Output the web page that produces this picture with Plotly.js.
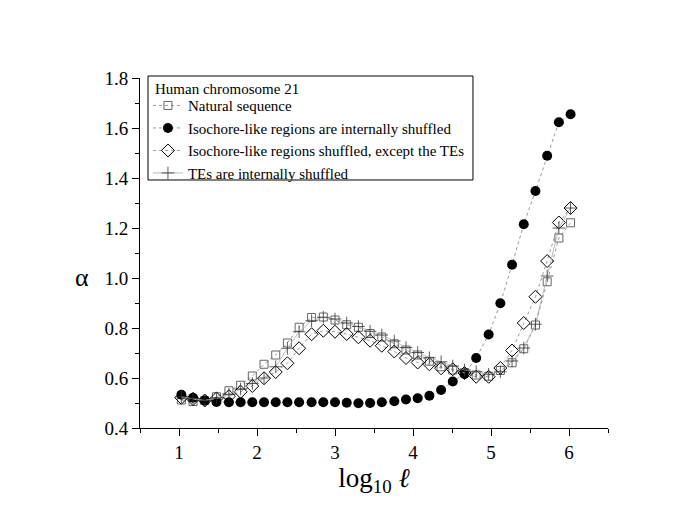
<!DOCTYPE html>
<html>
<head>
<meta charset="utf-8">
<script src="https://cdn.plot.ly/plotly-3.0.1.min.js"></script>
<style>html,body{margin:0;padding:0;background:#fff;}#chart{width:685px;height:532px;}</style>
</head>
<body>
<div id="chart"></div>
<script>
const logL = [1.03,1.18,1.33,1.48,1.64,1.79,1.94,2.09,2.24,2.39,2.54,2.70,2.85,3.00,3.15,3.30,3.45,3.60,3.76,3.91,4.06,4.21,4.36,4.51,4.66,4.81,4.97,5.12,5.27,5.42,5.57,5.72,5.87,6.02];
const natural = [0.512,0.506,0.510,0.525,0.549,0.571,0.608,0.655,0.692,0.740,0.803,0.842,0.844,0.832,0.813,0.803,0.778,0.764,0.737,0.712,0.692,0.667,0.645,0.632,0.622,0.612,0.607,0.630,0.661,0.717,0.812,0.985,1.160,1.221];
const isoShuffled = [0.533,0.521,0.510,0.504,0.503,0.503,0.503,0.503,0.503,0.503,0.503,0.503,0.503,0.503,0.501,0.499,0.500,0.503,0.507,0.514,0.519,0.529,0.552,0.586,0.616,0.680,0.774,0.899,1.053,1.215,1.348,1.489,1.623,1.655];
const isoExceptTEs = [0.521,0.516,0.510,0.518,0.527,0.545,0.568,0.599,0.624,0.659,0.719,0.775,0.789,0.785,0.776,0.763,0.749,0.729,0.706,0.680,0.662,0.655,0.639,0.635,0.620,0.605,0.605,0.640,0.710,0.820,0.925,1.068,1.222,1.280];
const tesShuffled = [0.525,0.518,0.510,0.520,0.535,0.556,0.578,0.600,0.645,0.719,0.785,0.829,0.843,0.836,0.820,0.806,0.787,0.772,0.748,0.722,0.702,0.681,0.665,0.648,0.632,0.625,0.615,0.625,0.668,0.720,0.815,1.008,1.200,1.280];
const seriesNames = ["Natural sequence","Isochore-like regions are internally shuffled","Isochore-like regions shuffled, except the TEs","TEs are internally shuffled"];
const legendTitle = "Human chromosome 21";
const yTickVals = [0.4,0.6,0.8,1.0,1.2,1.4,1.6,1.8];
const xTickVals = [1,2,3,4,5,6];

const font = "Liberation Serif, Times New Roman, serif";
const traces = [
  {x: logL, y: natural, name: seriesNames[0], mode: "lines+markers",
   line: {color: "#999", width: 1, dash: "dot"},
   marker: {symbol: "square-open", size: 8, color: "#666", line: {width: 1, color: "#666"}}},
  {x: logL, y: isoShuffled, name: seriesNames[1], mode: "lines+markers",
   line: {color: "#999", width: 1, dash: "dot"},
   marker: {symbol: "circle", size: 10, color: "#000"}},
  {x: logL, y: isoExceptTEs, name: seriesNames[2], mode: "lines+markers",
   line: {color: "#999", width: 1, dash: "dot"},
   marker: {symbol: "diamond-open", size: 10, color: "#000", line: {width: 1, color: "#000"}}},
  {x: logL, y: tesShuffled, name: seriesNames[3], mode: "lines+markers",
   line: {color: "#aaa", width: 0.8, dash: "solid"},
   marker: {symbol: "cross-thin-open", size: 9, color: "#333", line: {width: 0.8, color: "#333"}}}
];

const layout = {
  width: 685, height: 532,
  margin: {l: 140, r: 77, t: 78, b: 104},
  paper_bgcolor: "#fff", plot_bgcolor: "#fff",
  font: {family: font, color: "#000", size: 19},
  showlegend: true,
  legend: {
    x: 0.017, y: 0.968, xanchor: "left", yanchor: "top",
    bgcolor: "rgba(0,0,0,0)", borderwidth: 0,
    font: {family: font, size: 15, color: "#000"},
    tracegroupgap: 0, itemwidth: 30
  },
  shapes: [
    {type: "rect", xref: "paper", yref: "paper", x0: 0.0171, x1: 0.7115, y0: 0.7086, y1: 1.0057,
     line: {color: "#000", width: 1}, fillcolor: "#fff", layer: "above"}
  ],
  xaxis: {
    range: [0.5, 6.5], tickvals: xTickVals, ticks: "outside", ticklen: 7, tickwidth: 1,
    tickcolor: "#000", showline: true, linecolor: "#000", linewidth: 1,
    showgrid: false, zeroline: false,
    minor: {dtick: 0.5, tick0: 0.5, ticks: "outside", ticklen: 4, tickcolor: "#000", showgrid: false},
    tickfont: {family: font, size: 19},
    title: {text: "log<sub>10</sub> <i>ℓ</i>", font: {family: font, size: 27}, standoff: 6}
  },
  yaxis: {
    range: [0.4, 1.8], tickvals: yTickVals, tickformat: ".1f", ticks: "outside", ticklen: 7, tickwidth: 1,
    tickcolor: "#000", showline: true, linecolor: "#000", linewidth: 1,
    showgrid: false, zeroline: false,
    minor: {dtick: 0.1, tick0: 0.4, ticks: "outside", ticklen: 4, tickcolor: "#000", showgrid: false},
    tickfont: {family: font, size: 19}
  },
  annotations: [
    {text: "α", xref: "paper", yref: "paper", x: -0.125, y: 0.43, showarrow: false,
     xanchor: "center", yanchor: "middle", font: {family: font, size: 26, color: "#000"}},
    {text: legendTitle, xref: "paper", yref: "paper", x: 0.028, y: 0.9686, showarrow: false,
     xanchor: "left", yanchor: "middle", font: {family: font, size: 15, color: "#000"}}
  ]
};

Plotly.newPlot("chart", traces, layout, {displayModeBar: false, staticPlot: true});
</script>
</body>
</html>
